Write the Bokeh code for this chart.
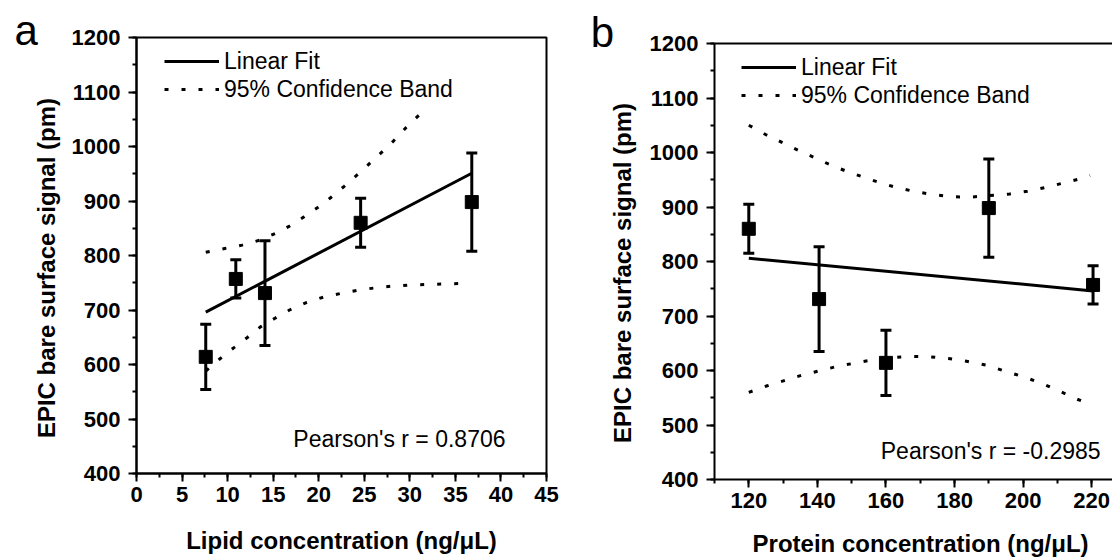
import math
from bokeh.plotting import figure
from bokeh.models import (Range1d, SingleIntervalTicker, LinearAxis, FixedTicker,
                          Whisker, TeeHead, ColumnDataSource, Legend, LegendItem, Label)
from bokeh.embed import file_html
from bokeh.resources import INLINE

FONT = "Liberation Sans"

# ---------------- data ----------------
lipid_conc = [7.6, 10.9, 14.1, 24.6, 36.8]
protein_conc = [160.0, 220.4, 140.5, 120.0, 190.0]
signal = [614, 757, 731, 860, 898]
signal_err = [60, 35, 96, 45, 90]

fit_a_x = [7.6, 36.8]
fit_a_y = [696, 951]
band_a_up_x = [7.6, 9.7, 11.6, 13.5, 15.3, 16.8, 18.4, 19.8, 21.3, 22.8, 24.3, 25.8, 27.2, 28.2, 29.6, 31.1]
band_a_up_y = [806, 813, 819, 828, 841, 854, 871, 887, 906, 927, 949, 972, 994, 1010, 1035, 1059]
band_a_lo_x = [7.6, 9.2, 10.7, 12.2, 13.6, 15.1, 16.8, 18.7, 20.6, 22.6, 24.5, 26.4, 28.2, 30.1, 32.1, 34.1, 36.4]
band_a_lo_y = [588, 611, 631, 650, 669, 684, 700, 714, 724, 731, 737, 741, 744, 746, 747, 748, 749]

fit_b_x = [120.0, 220.4]
fit_b_y = [806, 746]
band_b_up_x = [120.0, 124.9, 129.5, 134.4, 139.0, 143.2, 148.3, 153.4, 158.5, 163.5, 168.7, 173.7,
               178.9, 184.5, 190.3, 196.1, 201.3, 206.6, 211.7, 216.8, 219.5]
band_b_up_y = [1050, 1033, 1019, 1004, 991, 979, 966, 955, 944, 935, 928, 923,
               919, 918, 921, 924, 929, 936, 944, 952, 958]
band_b_lo_x = [120.0, 125.4, 130.6, 135.8, 141.0, 146.0, 151.4, 156.5, 162.1, 167.4, 172.8, 178.2,
               183.5, 189.1, 195.7, 200.8, 205.9, 210.0, 214.7, 219.5]
band_b_lo_y = [560, 572, 582, 592, 600, 608, 614, 620, 624, 626, 625, 622,
               617, 610, 597, 587, 575, 564, 550, 538]

pearson_a = "Pearson's r = 0.8706"
pearson_b = "Pearson's r = -0.2985"
y_title = "EPIC bare surface signal (pm)"
x_title_a = "Lipid concentration (ng/\u03bcL)"
x_title_b = "Protein concentration (ng/\u03bcL)"

TICK_PX = "22px"
TEXT_PX = "23px"
LABEL_PX = "24px"
DOT = "4 13"


def style_axis(ax, standoff):
    ax.axis_line_color = "black"
    ax.axis_line_width = 2
    ax.major_tick_line_color = "black"
    ax.major_tick_line_width = 2
    ax.major_tick_out = 8
    ax.major_tick_in = 0
    ax.minor_tick_line_color = "black"
    ax.minor_tick_line_width = 2
    ax.minor_tick_out = 4
    ax.minor_tick_in = 0
    ax.major_label_text_font = FONT
    ax.major_label_text_font_style = "bold"
    ax.major_label_text_font_size = TICK_PX
    ax.major_label_text_color = "black"
    ax.major_label_standoff = standoff


def build(width, mb_left, mb_right, mb_top, mb_bottom, x_range, x_interval,
          xs, fit_x, fit_y, up_x, up_y, lo_x, lo_y, letter, letter_pos,
          pearson, pearson_pos, xtitle, xtitle_pos, ytitle_pos, legend_loc, outline):
    p = figure(width=width, height=558, x_range=Range1d(*x_range), y_range=Range1d(400, 1200),
               output_backend="svg", toolbar_location=None, title=None,
               min_border_left=mb_left, min_border_right=mb_right,
               min_border_top=mb_top, min_border_bottom=mb_bottom)
    p.grid.visible = False
    p.background_fill_color = "white"
    p.border_fill_color = "white"

    xax = p.below[0]
    yax = p.left[0]
    xax.ticker = SingleIntervalTicker(interval=x_interval, num_minor_ticks=2)
    yax.ticker = SingleIntervalTicker(interval=100, num_minor_ticks=2)
    style_axis(xax, 5)
    style_axis(yax, 8)

    if outline:
        p.outline_line_color = "black"
        p.outline_line_width = 2
    else:
        p.outline_line_color = None
        top = LinearAxis(ticker=FixedTicker(ticks=[]), axis_line_color="black",
                         axis_line_width=2, major_label_text_font_size="0px",
                         major_tick_line_color=None, minor_tick_line_color=None,
                         major_tick_out=0, minor_tick_out=0)
        p.add_layout(top, "above")

    fit_r = p.line(fit_x, fit_y, line_color="black", line_width=3)
    up_r = p.line(up_x, up_y, line_color="black", line_width=3, line_dash=DOT)
    p.line(lo_x, lo_y, line_color="black", line_width=3, line_dash=DOT)

    src = ColumnDataSource(dict(x=xs, y=signal,
                                upper=[s + e for s, e in zip(signal, signal_err)],
                                lower=[s - e for s, e in zip(signal, signal_err)]))
    wh = Whisker(source=src, base="x", upper="upper", lower="lower", dimension="height",
                 line_color="black", line_width=3,
                 upper_head=TeeHead(size=11, line_width=3, line_color="black"),
                 lower_head=TeeHead(size=11, line_width=3, line_color="black"))
    p.add_layout(wh)
    p.scatter("x", "y", source=src, marker="square", size=13,
              fill_color="black", line_color="black")

    legend = Legend(items=[LegendItem(label="Linear Fit", renderers=[fit_r]),
                           LegendItem(label="95% Confidence Band", renderers=[up_r])],
                    location=legend_loc, glyph_width=55, glyph_height=28, label_height=28,
                    label_standoff=5, spacing=0, padding=0, margin=0,
                    border_line_color=None, background_fill_alpha=0,
                    label_text_font=FONT, label_text_font_size=TEXT_PX,
                    label_text_color="black")
    p.add_layout(legend)

    p.add_layout(Label(x=pearson_pos[0], y=pearson_pos[1], text=pearson, text_align="right",
                       text_baseline="middle", text_font=FONT, text_font_size=TEXT_PX,
                       text_color="black"))
    # texts outside the frame go into side panels so they are not clipped
    p.add_layout(Label(x=letter_pos[0], y=letter_pos[1], text=letter, text_align="center",
                       text_baseline="middle", text_font=FONT, text_font_size="42px",
                       text_color="black"), "left")
    p.add_layout(Label(x=xtitle_pos[0], y=xtitle_pos[1], text=xtitle, text_align="center",
                       text_baseline="middle", text_font=FONT, text_font_size=LABEL_PX,
                       text_font_style="bold", text_color="black"), "below")
    p.add_layout(Label(x=ytitle_pos[0], y=ytitle_pos[1], text=y_title, text_align="center",
                       text_baseline="middle", angle=math.pi / 2, text_font=FONT,
                       text_font_size=LABEL_PX, text_font_style="bold", text_color="black"), "left")
    return p


pa = build(568, 136, 22, 37, 85, (0, 45), 5, lipid_conc, fit_a_x, fit_a_y,
           band_a_up_x, band_a_up_y, band_a_lo_x, band_a_lo_y,
           "a", (-12.1, 1212), pearson_a, (40.5, 463), x_title_a, (22.5, 277),
           (-9.9, 777), (28, 370), True)

pb = build(544, 146, 0, 43, 79, (110, 226.07), 20, protein_conc, fit_b_x, fit_b_y,
           band_b_up_x, band_b_up_y, band_b_lo_x, band_b_lo_y,
           "b", (77.3, 1220), pearson_b, (222.6, 452), x_title_b, (170.1, 282),
           (83.3, 779), (27, 370), False)

# two independent roots so Bokeh does not align the two frames; panel b sits to the right
pb.styles = {"position": "absolute", "left": "568px", "top": "0px"}

open("out.html", "w").write(file_html([pa, pb], INLINE))
